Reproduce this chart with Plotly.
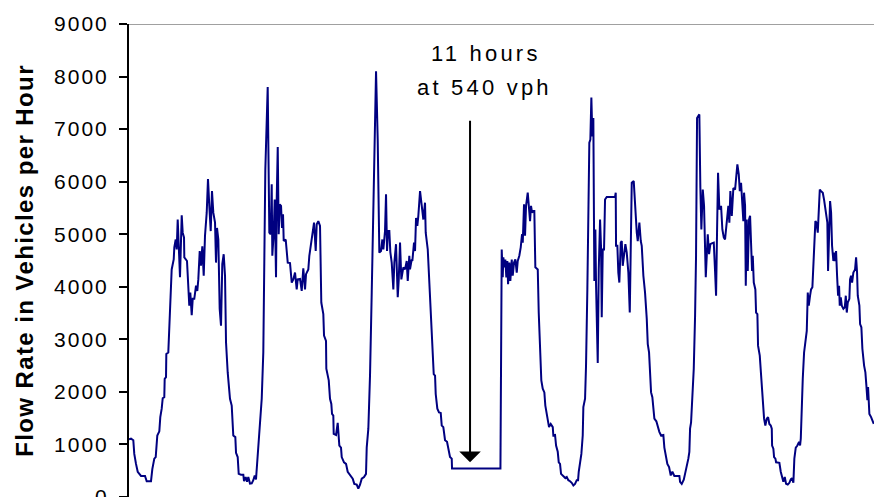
import plotly.graph_objects as go

# Time in hours from start of record, flow rate in vehicles per hour
hours = [
    0.0, 0.45, 0.98, 1.20, 1.59, 1.98, 2.73, 3.64, 4.02, 5.00, 5.30, 5.75, 6.07, 6.43, 6.89, 7.11, 7.43, 7.66, 8.02, 8.11,
    8.41, 8.48, 8.93, 9.16, 9.70, 10.16, 10.30, 10.61, 10.84, 11.07, 11.30, 11.59, 11.98, 12.20, 12.50, 12.57, 13.18, 13.34,
    13.70, 13.93, 14.25, 14.48, 14.84, 15.23, 15.52, 15.75, 16.07, 16.36, 16.66, 16.98, 17.27, 17.66, 17.95, 18.25, 18.57,
    18.86, 19.16, 19.55, 19.77, 20.00, 20.30, 20.61, 20.91, 21.20, 21.52, 21.82, 22.05, 22.43, 22.95, 23.34, 23.70, 24.16,
    24.32, 24.70, 24.93, 25.45, 25.98, 26.14, 26.52, 26.82, 27.11, 27.50, 27.89, 28.25, 28.57, 28.86,
    29.16, 29.55, 29.84, 30.16, 30.52, 30.75, 30.98, 31.52, 31.89, 32.20, 32.43, 32.57, 32.89, 33.11, 33.41, 33.57, 33.80,
    34.02, 34.25, 34.55, 34.77, 35.00, 35.16, 35.61, 35.84, 36.07, 36.59, 36.98, 37.34, 37.73, 38.11, 38.34, 38.86, 39.25,
    39.61, 40.00, 40.23, 40.75, 40.98, 41.30, 41.59, 42.05, 42.43, 42.66, 43.02, 43.41, 43.70, 44.16, 44.32, 44.77, 44.84,
    45.39, 45.68, 45.98, 46.14, 46.43, 46.52, 47.05, 47.43, 47.80, 48.18, 48.34, 48.86, 49.32, 49.70, 50.23, 50.84, 51.20,
    51.75, 52.11, 52.50, 52.89, 53.41, 53.86, 54.02, 54.39, 54.77, 55.16, 55.52, 55.91, 56.14, 56.52, 56.75, 56.89,
    57.27, 57.57, 57.80, 58.18, 58.41, 58.64, 58.86, 59.16, 59.39, 59.70, 60.07, 60.30, 60.68, 61.07, 61.30, 61.59, 61.89,
    62.34, 62.73, 63.11, 63.34, 63.70, 63.86, 64.25, 64.39, 64.77, 65.00, 65.23, 65.52, 65.75, 66.14, 66.52, 66.89, 67.27,
    67.43, 67.89, 68.18, 68.64, 68.93, 69.25, 69.55, 69.70, 70.07, 70.45, 70.84, 71.07, 71.43, 71.82, 72.27, 72.57, 72.95,
    73.34, 73.41, 84.41,
    84.70, 84.93, 85.07, 85.30, 85.52, 85.75, 85.98, 86.14, 86.43, 86.66, 86.98, 87.20, 87.50, 87.80, 88.11, 88.34, 88.70,
    89.02, 89.32, 89.48, 89.77, 90.00, 90.23, 90.61, 90.84, 91.14, 91.36, 91.59, 91.89, 92.11, 92.34, 92.89, 93.11, 93.41,
    93.70, 94.02, 94.39, 94.61, 94.93, 95.45, 95.84, 96.30, 96.43, 96.82, 97.05, 97.43, 97.66, 97.95, 98.18, 98.70, 99.16,
    99.48, 99.84, 100.23, 100.61, 100.98, 101.36, 101.75, 102.05, 102.20, 102.50, 102.80, 103.11, 103.25, 103.64, 103.86,
    104.16, 104.48, 104.61, 104.84, 105.07, 105.30, 105.52, 105.75, 105.98, 106.14, 106.52, 106.75, 107.05, 107.27, 107.43,
    107.66, 107.95, 108.18, 108.57, 110.45, 110.61, 110.68, 110.98, 111.20, 111.43, 111.75, 111.98, 112.20, 112.50, 112.80,
    113.11, 113.48, 113.80, 114.09, 114.25, 114.70, 115.00, 115.39, 115.61, 115.98, 116.30, 116.52, 116.89, 117.27, 117.66,
    117.89, 118.18, 118.41, 118.64, 118.93, 119.16, 119.39, 119.84, 120.16, 120.52, 120.91, 121.43, 121.66, 122.05, 122.34,
    122.73, 123.11, 123.48, 123.93, 125.07, 125.23, 125.61, 126.07, 126.36, 126.75, 127.11, 127.34, 127.50, 127.73, 128.02,
    128.34, 128.64, 128.86, 129.09, 129.25, 129.61, 129.84, 130.07, 130.39, 130.68, 131.07, 131.52, 131.82, 132.11, 132.57,
    132.89, 133.18, 133.41, 133.64, 133.86, 134.16, 134.55, 134.84, 135.16, 135.45, 135.75, 136.20, 136.43, 136.66, 136.98,
    137.34, 137.73, 138.02, 138.25, 138.57, 138.80, 139.09, 139.32, 139.61, 139.77, 140.00, 140.16, 140.39, 140.61, 140.91,
    141.14, 141.36, 141.59, 141.75, 141.98, 142.34, 142.50, 142.80, 142.95, 143.34, 143.80, 144.16, 144.32, 144.61, 144.93,
    145.23, 145.52, 145.84, 146.07, 146.14, 146.43, 146.59, 146.89, 147.05, 147.80, 148.11, 148.41, 148.70, 149.02, 149.32,
    149.70, 150.07, 150.39, 150.68, 150.98, 151.20, 151.52, 151.89, 152.27, 152.50, 152.66, 152.89, 153.11, 153.41, 153.70,
    154.02, 154.25, 154.48, 154.77, 155.00, 155.30, 155.61, 155.98, 156.20, 156.52, 156.66, 156.98, 157.27, 157.66, 157.95,
    158.34, 158.70, 158.86, 159.09, 159.32, 159.55, 159.77, 160.07, 160.30, 160.52, 160.68, 160.91, 161.14, 161.36, 161.52,
    161.75, 161.98, 162.34, 162.66, 162.89, 163.11, 163.34, 163.70, 163.86, 164.09, 164.32, 164.61, 165.00, 165.23, 165.45,
    165.61, 165.98, 166.14, 166.43, 166.66, 167.05, 167.34, 167.57, 167.80, 167.95, 168.18, 168.25, 168.64, 169.02, 169.25,
]

flow_vph = [
    1100, 1110, 1080, 820, 630, 480, 400, 400, 300, 300, 530, 730, 760, 1170, 1250, 1520, 1680, 1880, 1900, 2250,
    2280, 2720, 2750, 3260, 4330, 4520, 4750, 4900, 4710, 5280, 4710, 4180, 5360, 5030, 4940, 4560, 4490, 4110,
    3640, 3890, 3460, 3770, 3770, 4020, 3920, 4140, 4680, 4400, 4770, 4210, 4970, 5410, 6050, 5540, 5060,
    5820, 5410, 5220, 4460, 5120, 4900, 3580, 3260, 4430, 4620, 4210, 2940, 2370, 1870, 1740, 1170, 1140,
    840, 760, 440, 425, 425, 300, 380, 290, 380, 255, 260, 320, 410, 335,
    660, 1110, 1490, 1870, 2750, 4520, 6230, 7800, 5030, 5000, 5950, 4590, 5030, 5660, 4180, 5660, 6660,
    5000, 5570, 5540, 5120, 5380, 4870, 4900, 4650, 4460, 4450, 4080, 4140, 4270, 3950, 4140, 4150, 3920,
    4350, 3950, 4240, 4330, 4590, 4780, 5030, 5220, 4680, 5190, 5250, 5160, 3700, 3480, 3070, 2970, 2440,
    2220, 1870, 1770, 1580, 1550, 1200, 1180, 1410, 980, 940, 760, 660, 630, 480, 410, 350, 250,
    235, 160, 235, 350, 380, 440, 940, 1300, 2310, 3890, 5600, 7050, 8100, 6800, 5500, 4650,
    4680, 4900, 4710, 5060, 5760, 4680, 5060, 5060, 4660, 4460, 3950, 4460, 4810, 3800, 4140, 4840, 4140,
    4370, 4330, 4490, 4110, 4590, 4330, 4520, 4490, 4840, 4680, 5310, 5160, 5350, 5820, 5540, 5280, 5600,
    5030, 4710, 4210, 3610, 3070, 2340, 2310, 1960, 1680, 1610, 1600, 1360, 1330, 1080, 1050, 920, 760,
    730, 540, 540,
    4710, 4180, 4560, 4370, 4520, 4180, 4490, 4050, 4460, 4110, 4520, 4210, 4460, 4520, 4270, 4490, 4590,
    4750, 5000, 4840, 5570, 4970, 5540, 5790, 5540, 5250, 5540, 5410, 5440, 5440, 4370, 4330, 3510, 2880,
    2220, 2060, 1990, 1740, 1550, 1330, 1390, 1330, 1170, 1180, 980, 860, 660, 630, 440, 400, 360,
    380, 320, 300, 270, 220, 250, 320, 320, 480, 630, 820, 1170, 1710, 1870, 2500,
    3950, 5660, 6740, 6800, 7600, 6860, 7210, 4110, 5090, 4020, 2550, 4330, 5280, 4750, 3420,
    4710, 4710, 5660, 5710, 5710, 5790, 4780, 4780, 4270, 4080, 4840, 4870, 4400, 4650, 4810,
    4650, 4270, 3510, 4780, 5980, 6010, 5470, 5030, 4870, 5220, 4870, 4780, 4210, 3890, 3390,
    2910, 2750, 2250, 1990, 1900, 1680, 1490, 1440, 1330, 1240, 1170, 1180, 940, 790, 630,
    570, 410, 480, 400, 400, 290, 250, 330, 440, 570, 730, 860, 1300, 1420, 1990,
    2440, 3450, 4590, 7210, 7230, 7280, 5880, 5090, 5850, 5540, 4180, 5000, 4620, 4810, 4830,
    4840, 4300, 3830, 5090, 6170, 5470, 5540, 5090, 4940, 4900, 5190, 5540, 5220, 5820, 5350,
    5880, 5850, 6100, 6330, 6140, 5820, 5980, 5660, 5250, 5790, 5540, 4020, 5280, 4300, 5280,
    5350, 4590, 4300, 4590, 4080, 3950, 3510, 3480, 2880, 2690, 2150, 1800, 1490, 1360, 1490,
    1520, 1390, 1360, 1300, 980, 920, 760, 730, 660, 650, 480, 380, 290, 380, 250,
    235, 270, 335, 360, 270, 730, 940, 980, 1050, 980, 1110, 1800, 2250, 2750, 3000,
    3160, 3890, 3640, 3830, 3950, 3990, 4590, 5250, 5220, 5030, 5280, 5850, 5820, 5790, 5660,
    5440, 5220, 4300, 5220, 5630, 5410, 4780, 4490, 4650, 4490, 4680, 4210, 3830, 4020, 3640,
    3800, 3640, 3580, 3610, 3830, 3510, 3700, 3770, 4140, 4210, 4080, 4270, 4330, 4560, 4270,
    3830, 3640, 3290, 3230, 2820, 2500, 2370, 2120, 1840, 2090, 1840, 1580, 1520, 1420, 1390,
]

y_ticks = [0, 1000, 2000, 3000, 4000, 5000, 6000, 7000, 8000, 9000]
y_tick_labels = [f'<span style="letter-spacing:2px">{v}</span>' for v in y_ticks]

gap_hours = 11
gap_rate = 540
note_line1 = f"{gap_hours} hours"
note_line2 = f"at {gap_rate} vph"
y_title = "Flow Rate in Vehicles per Hour"

FONT = "Arial, 'Liberation Sans', sans-serif"

fig = go.Figure()
fig.add_trace(go.Scatter(
    x=hours, y=flow_vph, mode="lines",
    line=dict(color="#000080", width=2),
    hoverinfo="skip", showlegend=False,
))

# top border / gridline at 9000
fig.add_shape(type="line", xref="paper", yref="y", x0=0, x1=1, y0=9000, y1=9000,
              line=dict(color="#808080", width=1.5), layer="below")

# arrow pointing to the flat segment
fig.add_annotation(
    x=77.5, y=660, xref="x", yref="y",
    ax=77.5, ay=7190, axref="x", ayref="y",
    text="", showarrow=True, arrowhead=1, arrowsize=1.8, arrowwidth=2, arrowcolor="black",
)
fig.add_annotation(
    x=81.2, y=8430, xref="x", yref="y", text=f'<span style="letter-spacing:3.2px">{note_line1}</span>',
    showarrow=False, font=dict(family=FONT, size=22, color="black"), xanchor="center", yanchor="middle",
)
fig.add_annotation(
    x=80.8, y=7800, xref="x", yref="y", text=f'<span style="letter-spacing:3.2px">{note_line2}</span>',
    showarrow=False, font=dict(family=FONT, size=22, color="black"), xanchor="center", yanchor="middle",
)

fig.update_layout(
    width=874, height=497,
    margin=dict(l=129, r=0, t=24, b=0, autoexpand=False),
    paper_bgcolor="white", plot_bgcolor="white",
    font=dict(family=FONT, color="black"),
    xaxis=dict(range=[0, 169.3], visible=False, showgrid=False, zeroline=False),
    yaxis=dict(
        range=[0, 9000], tickmode="array", tickvals=y_ticks, ticktext=y_tick_labels,
        showgrid=False, zeroline=False, automargin=False,
        showline=True, linecolor="black", linewidth=2,
        ticks="outside", ticklen=8, tickwidth=1.5, tickcolor="black",
        ticklabelstandoff=6, ticklabeloverflow="allow",
        tickfont=dict(family=FONT, size=21, color="black"),
        title=dict(text=f'<span style="letter-spacing:1.4px">{y_title}</span>',
                   font=dict(family=FONT, size=24, color="black", weight="bold"), standoff=14),
    ),
)

# remove the default page margin/scrollbars so the figure fills the 874x497 window exactly
fig.write_html(
    "out.html",
    config={"displayModeBar": False},
    post_script="document.body.style.margin='0';document.body.style.overflow='hidden';",
)
